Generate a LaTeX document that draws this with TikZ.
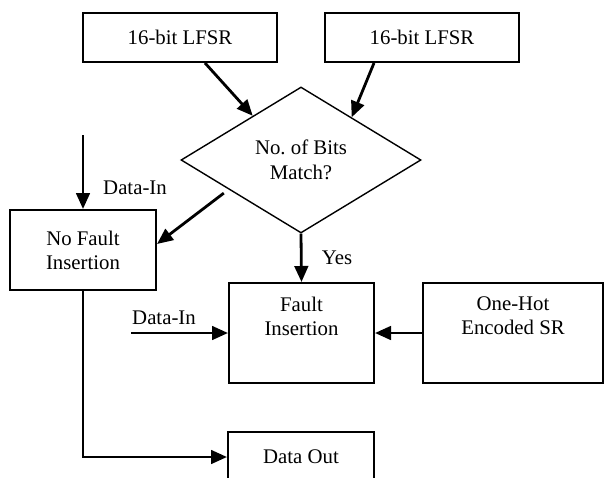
\documentclass[tikz,border=0pt]{standalone}
\usepackage{fontspec}
\setmainfont{Liberation Serif}
\usepackage{tikz}
\usetikzlibrary{shapes.geometric, arrows.meta, positioning, calc}
\tikzset{
  block/.style={rectangle, draw=black, line width=1pt, align=center, inner sep=0pt, font=\fontsize{10.4}{12}\selectfont},
  decision/.style={diamond, draw=black, line width=0.7pt, align=center, inner sep=0pt, aspect=1.64, font=\fontsize{10.4}{12.5}\selectfont},
  arrow/.style={-{Triangle[length=8pt, width=6.8pt]}, line width=1.4pt, color=black},
  line/.style={line width=1.4pt, color=black},
  lbl/.style={font=\fontsize{10.4}{12}\selectfont, inner sep=0pt}
}
\begin{document}
\begin{tikzpicture}[x=0.5pt, y=-0.5pt]
  \path[use as bounding box, clip] (0,0) rectangle (605,477);

  % Sources
  \node[block, minimum width=97pt, minimum height=24.5pt] (lfsrA) at (180,37.5) {16-bit LFSR};
  \node[block, minimum width=97pt, minimum height=24.5pt] (lfsrB) at (422,37.5) {16-bit LFSR};
  \node[decision, minimum width=120pt, minimum height=73pt] (match) at (301,160) {No.\ of Bits\\Match?};

  % Fault paths
  \node[block, minimum width=73pt, minimum height=40pt] (nofault) at (83,250) {No Fault\\Insertion};
  \node[block, minimum width=72.5pt, minimum height=50pt] (fault) at (301.5,333) {Fault\\Insertion\\[5pt]};
  \node[block, minimum width=90pt, minimum height=50pt] (onehot) at (513,333) {One-Hot\\Encoded SR\\[5pt]};
  \node[block, minimum width=73pt, minimum height=25pt] (dataout) at (301,457) {Data Out};

  \coordinate (dinA) at (83,135);
  \coordinate (dinB) at (131,333);

  % Connectors
  \draw[arrow] ([xshift=12.5pt]lfsrA.south) -- ($(match.north)!0.4!(match.west)$);
  \draw[arrow] ([xshift=-24pt]lfsrB.south) -- ($(match.north)!0.42!(match.east)$);
  \draw[arrow, shorten <=3pt] ($(match.west)!0.4!(match.south)$) -- ([yshift=3pt]nofault.east);
  \draw[arrow] (dinA) -- (nofault.north);
  \draw[arrow] (match.south) -- (fault.north);
  \draw[arrow] (dinB) -- (fault.west);
  \draw[arrow] (onehot.west) -- (fault.east);
  \draw[arrow] (nofault.south) |- (dataout.west);

  \node[lbl] at (135,188) {Data-In};
  \node[lbl] at (337,258) {Yes};
  \node[lbl] at (164,318) {Data-In};
\end{tikzpicture}
\end{document}
